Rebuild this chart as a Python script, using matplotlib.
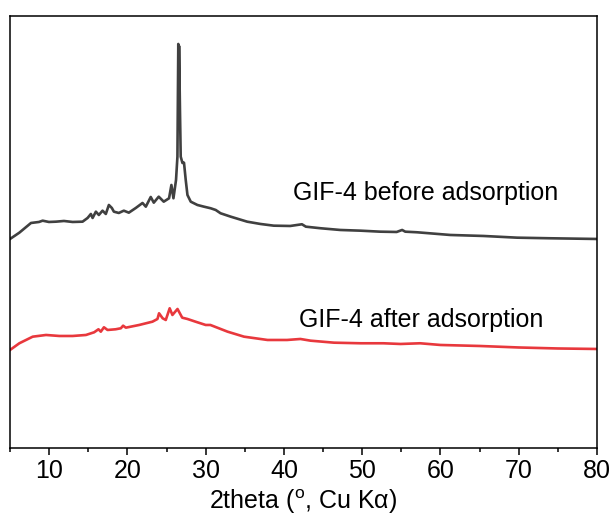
import matplotlib
matplotlib.use("Agg")
import matplotlib.pyplot as plt

plt.rcParams['font.family'] = ['Liberation Sans', 'DejaVu Sans']
plt.rcParams['mathtext.fontset'] = 'custom'
plt.rcParams['mathtext.rm'] = 'Liberation Sans'

# XRD pattern of GIF-4 before adsorption (stacked, a.u.)
before_2theta = [5.0, 6.19, 7.68, 8.70, 9.17, 9.97, 10.87, 11.89, 13.0, 14.27,
                 14.91, 15.33, 15.55, 15.97, 16.35, 16.82, 17.24, 17.63, 18.01, 18.27,
                 18.9, 19.54, 20.18, 21.07, 21.93, 22.35, 22.98, 23.37, 24.0, 24.64,
                 25.32, 25.62, 25.88, 26.21, 26.39, 26.50, 26.56, 26.60, 26.72, 26.81,
                 27.03, 27.23, 27.45, 27.67, 28.09, 28.94, 29.78, 30.64, 31.28, 31.9,
                 33.2, 35.3, 37.0, 38.7, 40.8, 42.3, 42.8, 44.7, 47.2, 49.8,
                 52.3, 54.4, 55.1, 55.5, 57.0, 61.25, 65.5, 69.8, 74.0, 80.0]
before_int = [209, 215.3, 225, 226, 227.3, 226, 226.3, 227, 226, 226.3,
              230, 234, 230, 236.3, 233, 237.3, 234, 243, 240, 236.3,
              235, 237.3, 235.3, 240, 245, 241.3, 251, 245.3, 251.3, 246.3,
              249.7, 263, 249.7, 268, 291.3, 404, 330, 402, 335, 291.3,
              285, 285.3, 268, 253, 246.3, 243, 241.3, 239.7, 238, 234.7,
              231.3, 226.3, 224, 222.3, 222, 223.7, 221.3, 219.7, 218, 217.3,
              216.3, 216, 218, 216.3, 215.7, 213, 212, 210.3, 209.7, 209]

# XRD pattern of GIF-4 after adsorption (a.u.)
after_2theta = [5.0, 6.19, 7.9, 9.6, 11.3, 13.0, 14.7, 15.75, 16.3, 16.6,
                17.0, 17.46, 18.5, 19.16, 19.45, 19.8, 21.5, 23.2, 23.84, 24.04,
                24.5, 24.9, 25.4, 25.75, 26.4, 27.0, 27.67, 28.7, 30.0, 30.6,
                32.8, 34.9, 37.9, 40.4, 42.1, 43.4, 46.4, 49.8, 52.7, 54.9,
                57.4, 60.0, 65.0, 70.0, 75.0, 80.0]
after_int = [98, 104.7, 111.3, 113, 112, 112, 113, 115.7, 118.7, 116.3,
             120.7, 118, 118.7, 119.7, 122.3, 120.3, 123, 126.3, 129, 134.7,
             129.7, 128, 139.7, 133, 139, 130.3, 129, 126.3, 123, 123,
             116.3, 111.3, 108, 108, 109, 107.3, 105.3, 104.7, 104.7, 104,
             104.7, 103, 102, 100.5, 99.5, 99]

x_ticks = [10, 20, 30, 40, 50, 60, 70, 80]


def main():
    fig = plt.figure(figsize=(6.11, 5.2), dpi=100)
    ax = fig.add_axes([0.0164, 0.1385, 0.9607, 0.8308])

    ax.plot(before_2theta, before_int, color='#404040', lw=1.9,
            solid_joinstyle='round')
    ax.plot(after_2theta, after_int, color='#e8383d', lw=1.9,
            solid_joinstyle='round')

    ax.text(41.2, 255, 'GIF-4 before adsorption', fontsize=18, va='center', ha='left')
    ax.text(41.9, 128, 'GIF-4 after adsorption', fontsize=18, va='center', ha='left')

    ax.set_xlim(5, 80)
    ax.set_ylim(0, 432)
    ax.set_xticks(x_ticks)
    ax.set_xticks(range(5, 81, 5), minor=True)
    ax.set_yticks([])
    ax.tick_params(axis='x', which='major', direction='out', length=5, width=1.1,
                   labelsize=18, pad=3)
    ax.tick_params(axis='x', which='minor', direction='out', length=3, width=1.1)
    for sp in ax.spines.values():
        sp.set_linewidth(1.1)

    ax.set_xlabel('2theta ($^{\\rm o}$, Cu K\u03b1)', fontsize=18, labelpad=3)

    fig.savefig('out.png', dpi=100)


if __name__ == "__main__":
    main()
